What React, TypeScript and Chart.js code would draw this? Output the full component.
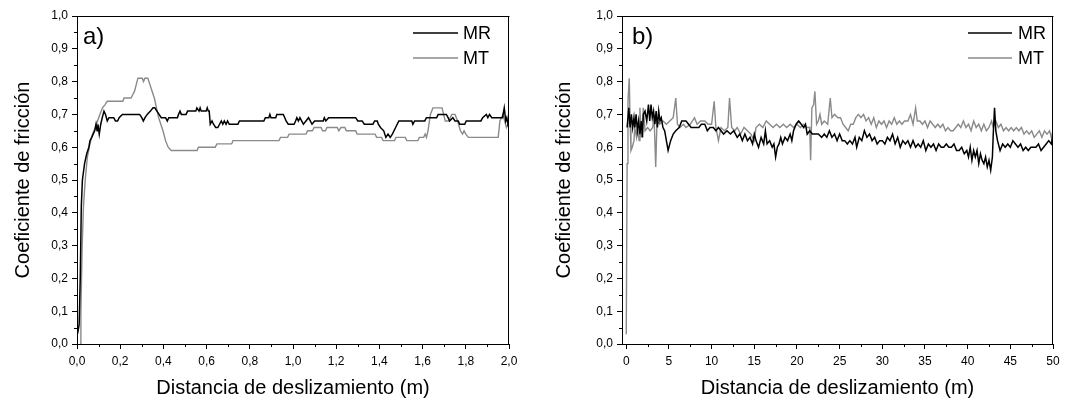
import React, { useEffect, useRef } from "react";
import { Chart, registerables } from "chart.js";

Chart.register(...registerables);

// ---------- Panel a) : 0 – 2.0 m ----------
const aMRx = [0.0, 0.005, 0.01, 0.015, 0.02, 0.025, 0.035, 0.045, 0.055, 0.06, 0.068, 0.075, 0.082, 0.088, 0.093, 0.097, 0.103, 0.11, 0.117, 0.125, 0.132, 0.14, 0.148, 0.16, 0.17, 0.178, 0.188, 0.195, 0.21, 0.29, 0.3, 0.307, 0.315, 0.325, 0.34, 0.352, 0.36, 0.37, 0.38, 0.39, 0.41, 0.418, 0.425, 0.465, 0.47, 0.477, 0.483, 0.505, 0.512, 0.55, 0.555, 0.565, 0.57, 0.575, 0.598, 0.603, 0.608, 0.612, 0.617, 0.625, 0.632, 0.642, 0.652, 0.66, 0.668, 0.675, 0.682, 0.69, 0.697, 0.705, 0.745, 0.752, 0.865, 0.872, 0.888, 0.893, 0.898, 0.92, 0.925, 0.955, 0.962, 0.968, 0.978, 1.005, 1.012, 1.018, 1.025, 1.032, 1.04, 1.048, 1.06, 1.072, 1.08, 1.088, 1.1, 1.14, 1.145, 1.152, 1.165, 1.29, 1.3, 1.32, 1.33, 1.37, 1.378, 1.39, 1.395, 1.405, 1.42, 1.43, 1.44, 1.45, 1.46, 1.475, 1.49, 1.55, 1.555, 1.563, 1.61, 1.618, 1.665, 1.672, 1.71, 1.718, 1.725, 1.74, 1.75, 1.765, 1.772, 1.795, 1.802, 1.87, 1.878, 1.895, 1.902, 1.91, 1.92, 1.97, 1.978, 1.985, 1.99, 1.995, 2.0];
const aMRy = [0.05, 0.04, 0.06, 0.2, 0.42, 0.5, 0.55, 0.58, 0.6, 0.62, 0.63, 0.64, 0.65, 0.67, 0.65, 0.67, 0.64, 0.67, 0.69, 0.71, 0.7, 0.68, 0.69, 0.69, 0.69, 0.68, 0.68, 0.69, 0.7, 0.7, 0.69, 0.68, 0.69, 0.7, 0.71, 0.72, 0.72, 0.71, 0.7, 0.69, 0.69, 0.68, 0.69, 0.69, 0.7, 0.71, 0.7, 0.7, 0.71, 0.71, 0.72, 0.71, 0.72, 0.71, 0.71, 0.72, 0.71, 0.71, 0.67, 0.68, 0.67, 0.66, 0.66, 0.67, 0.68, 0.67, 0.68, 0.67, 0.68, 0.67, 0.67, 0.68, 0.68, 0.69, 0.69, 0.7, 0.69, 0.69, 0.7, 0.7, 0.69, 0.68, 0.67, 0.67, 0.68, 0.69, 0.68, 0.69, 0.68, 0.67, 0.68, 0.69, 0.68, 0.67, 0.68, 0.68, 0.69, 0.68, 0.69, 0.69, 0.68, 0.68, 0.67, 0.67, 0.68, 0.68, 0.67, 0.66, 0.65, 0.63, 0.64, 0.63, 0.64, 0.66, 0.68, 0.68, 0.67, 0.68, 0.68, 0.69, 0.69, 0.7, 0.7, 0.69, 0.68, 0.69, 0.68, 0.68, 0.67, 0.67, 0.68, 0.68, 0.69, 0.7, 0.69, 0.7, 0.69, 0.69, 0.72, 0.68, 0.69, 0.67, 0.68];

const aMTx = [0.014, 0.018, 0.024, 0.03, 0.038, 0.048, 0.06, 0.072, 0.085, 0.095, 0.106, 0.118, 0.13, 0.14, 0.212, 0.218, 0.25, 0.258, 0.266, 0.274, 0.282, 0.302, 0.308, 0.314, 0.328, 0.338, 0.348, 0.358, 0.368, 0.378, 0.388, 0.398, 0.41, 0.422, 0.436, 0.556, 0.562, 0.64, 0.648, 0.716, 0.722, 0.935, 0.942, 0.975, 0.982, 1.06, 1.068, 1.09, 1.098, 1.13, 1.137, 1.15, 1.157, 1.205, 1.212, 1.222, 1.24, 1.247, 1.29, 1.297, 1.38, 1.387, 1.41, 1.417, 1.47, 1.477, 1.52, 1.527, 1.578, 1.585, 1.605, 1.612, 1.618, 1.625, 1.636, 1.648, 1.69, 1.697, 1.705, 1.722, 1.728, 1.735, 1.75, 1.762, 1.775, 1.785, 1.792, 1.8, 1.812, 1.95, 1.958, 1.965, 1.972, 1.98, 1.988, 1.995, 2.0];
const aMTy = [0.0, 0.1, 0.3, 0.42, 0.5, 0.57, 0.61, 0.64, 0.66, 0.68, 0.7, 0.72, 0.73, 0.74, 0.74, 0.75, 0.75, 0.76, 0.77, 0.79, 0.81, 0.81, 0.8, 0.81, 0.81, 0.79, 0.77, 0.75, 0.72, 0.69, 0.67, 0.65, 0.62, 0.6, 0.59, 0.59, 0.6, 0.6, 0.61, 0.61, 0.62, 0.62, 0.63, 0.63, 0.64, 0.64, 0.65, 0.65, 0.66, 0.66, 0.65, 0.65, 0.66, 0.66, 0.65, 0.66, 0.66, 0.65, 0.65, 0.64, 0.64, 0.63, 0.63, 0.62, 0.62, 0.63, 0.63, 0.62, 0.62, 0.63, 0.63, 0.64, 0.63, 0.65, 0.7, 0.72, 0.72, 0.7, 0.68, 0.68, 0.69, 0.7, 0.7, 0.68, 0.65, 0.64, 0.65, 0.64, 0.63, 0.63, 0.68, 0.69, 0.7, 0.68, 0.66, 0.67, 0.67];

// ---------- Panel b) : 0 – 50 m ----------
const bMRx = [0.1, 0.3, 0.45, 0.6, 0.75, 0.9, 1.0, 1.15, 1.3, 1.45, 1.6, 1.75, 1.9, 2.0, 2.2, 2.4, 2.6, 2.75, 2.9, 3.05, 3.2, 3.35, 3.5, 3.65, 3.8, 3.95, 4.1, 4.3, 4.5, 4.7, 4.9, 5.0, 5.2, 5.5, 5.8, 6.2, 6.5, 7.0, 7.3, 7.6, 8.5, 8.8, 9.2, 9.5, 9.8, 10.2, 10.5, 10.8, 11.1, 11.4, 11.8, 12.2, 12.6, 13.0, 13.3, 13.6, 13.9, 14.2, 14.5, 14.8, 15.0, 15.2, 15.5, 15.8, 16.1, 16.3, 16.5, 16.8, 17.1, 17.3, 17.5, 17.7, 17.9, 18.1, 18.3, 18.6, 18.9, 19.2, 19.4, 19.6, 19.9, 20.2, 20.5, 20.8, 21.0, 21.2, 21.5, 21.8, 22.5, 22.9, 23.2, 23.5, 23.8, 24.1, 24.4, 24.7, 25.0, 25.3, 25.6, 25.9, 26.2, 26.5, 26.8, 27.0, 27.3, 27.6, 27.9, 28.2, 28.5, 28.8, 29.1, 29.4, 29.7, 30.0, 30.3, 30.6, 30.9, 31.2, 31.5, 31.8, 32.1, 32.4, 32.7, 33.0, 33.3, 33.6, 33.9, 34.2, 34.5, 34.8, 35.1, 35.4, 35.7, 36.0, 36.3, 36.6, 36.9, 37.2, 37.5, 37.8, 38.1, 38.4, 38.7, 39.0, 39.3, 39.6, 39.9, 40.1, 40.3, 40.5, 40.7, 40.9, 41.1, 41.3, 41.5, 41.7, 41.9, 42.1, 42.3, 42.5, 42.7, 42.9, 43.0, 43.15, 43.3, 43.5, 43.8, 44.1, 44.4, 44.7, 45.0, 45.3, 45.6, 45.9, 46.2, 46.5, 46.8, 47.1, 47.4, 47.7, 48.0, 48.3, 48.6, 48.9, 49.2, 49.5, 49.8, 50.0];
const bMRy = [0.66, 0.72, 0.66, 0.7, 0.66, 0.69, 0.66, 0.7, 0.65, 0.68, 0.64, 0.68, 0.63, 0.7, 0.71, 0.68, 0.73, 0.68, 0.73, 0.69, 0.71, 0.67, 0.71, 0.66, 0.71, 0.68, 0.69, 0.66, 0.65, 0.62, 0.59, 0.59, 0.62, 0.64, 0.65, 0.66, 0.68, 0.68, 0.67, 0.66, 0.66, 0.67, 0.67, 0.65, 0.66, 0.66, 0.65, 0.66, 0.65, 0.64, 0.65, 0.64, 0.65, 0.63, 0.64, 0.62, 0.64, 0.62, 0.63, 0.61, 0.64, 0.62, 0.6, 0.63, 0.61, 0.65, 0.61, 0.62, 0.6, 0.61, 0.57, 0.6, 0.61, 0.63, 0.61, 0.63, 0.62, 0.64, 0.62, 0.65, 0.67, 0.68, 0.67, 0.66, 0.67, 0.64, 0.65, 0.64, 0.64, 0.63, 0.64, 0.63, 0.65, 0.63, 0.64, 0.62, 0.64, 0.62, 0.62, 0.61, 0.62, 0.61, 0.63, 0.6, 0.63, 0.62, 0.65, 0.63, 0.64, 0.62, 0.63, 0.61, 0.62, 0.62, 0.61, 0.63, 0.62, 0.64, 0.61, 0.63, 0.6, 0.62, 0.61, 0.62, 0.6, 0.62, 0.6, 0.61, 0.6, 0.62, 0.59, 0.61, 0.6, 0.61, 0.59, 0.61, 0.6, 0.6, 0.61, 0.6, 0.6, 0.61, 0.59, 0.59, 0.6, 0.58, 0.59, 0.57, 0.6, 0.56, 0.59, 0.57, 0.59, 0.55, 0.58, 0.56, 0.55, 0.57, 0.54, 0.56, 0.53, 0.57, 0.64, 0.72, 0.65, 0.62, 0.59, 0.61, 0.6, 0.61, 0.6, 0.62, 0.61, 0.6, 0.61, 0.59, 0.6, 0.59, 0.6, 0.6, 0.6, 0.61, 0.59, 0.6, 0.61, 0.62, 0.61, 0.64];

const bMTx = [0.0, 0.1, 0.2, 0.35, 0.45, 0.55, 0.7, 0.9, 1.0, 1.2, 1.35, 1.5, 1.6, 1.75, 1.9, 2.0, 2.2, 2.5, 2.8, 3.1, 3.25, 3.45, 3.6, 3.9, 4.3, 4.7, 5.1, 5.5, 5.8, 6.0, 6.3, 6.7, 7.0, 7.5, 8.0, 8.3, 8.7, 9.2, 9.6, 10.0, 10.3, 10.5, 10.8, 11.1, 11.5, 11.9, 12.1, 12.35, 12.7, 13.0, 13.4, 13.8, 14.2, 14.6, 15.0, 15.2, 15.6, 16.0, 16.4, 16.8, 17.2, 17.6, 18.0, 18.4, 18.8, 19.2, 19.6, 20.0, 20.4, 20.8, 21.2, 21.5, 21.6, 21.75, 21.95, 22.1, 22.3, 22.5, 22.7, 22.9, 23.2, 23.6, 23.9, 24.1, 24.4, 24.8, 25.1, 25.4, 25.7, 26.0, 26.3, 26.6, 26.9, 27.2, 27.5, 27.8, 28.1, 28.4, 28.7, 29.0, 29.3, 29.6, 29.9, 30.2, 30.5, 30.8, 31.1, 31.4, 31.7, 32.0, 32.3, 32.6, 33.0, 33.3, 33.6, 33.9, 34.1, 34.4, 34.7, 35.0, 35.3, 35.6, 35.9, 36.2, 36.5, 36.8, 37.1, 37.4, 37.7, 38.0, 38.3, 38.6, 38.9, 39.2, 39.5, 39.8, 40.1, 40.4, 40.7, 41.0, 41.3, 41.6, 41.9, 42.2, 42.5, 42.8, 43.0, 43.3, 43.6, 43.9, 44.2, 44.5, 44.8, 45.1, 45.4, 45.7, 46.0, 46.3, 46.6, 46.9, 47.2, 47.5, 47.8, 48.1, 48.4, 48.7, 49.0, 49.3, 49.6, 49.8, 50.0];
const bMTy = [0.03, 0.55, 0.74, 0.81, 0.68, 0.59, 0.6, 0.62, 0.66, 0.63, 0.66, 0.62, 0.72, 0.63, 0.68, 0.72, 0.65, 0.66, 0.65, 0.66, 0.7, 0.54, 0.68, 0.67, 0.68, 0.67, 0.68, 0.69, 0.75, 0.67, 0.66, 0.67, 0.66, 0.67, 0.69, 0.67, 0.68, 0.68, 0.67, 0.67, 0.74, 0.66, 0.62, 0.66, 0.65, 0.66, 0.75, 0.66, 0.65, 0.66, 0.64, 0.66, 0.65, 0.64, 0.62, 0.66, 0.67, 0.66, 0.68, 0.67, 0.66, 0.67, 0.66, 0.67, 0.66, 0.67, 0.66, 0.67, 0.66, 0.67, 0.66, 0.66, 0.56, 0.72, 0.73, 0.77, 0.67, 0.68, 0.7, 0.67, 0.68, 0.67, 0.75, 0.69, 0.7, 0.69, 0.69, 0.67, 0.66, 0.65, 0.67, 0.67, 0.69, 0.7, 0.69, 0.7, 0.68, 0.69, 0.67, 0.69, 0.66, 0.68, 0.67, 0.68, 0.66, 0.68, 0.67, 0.69, 0.67, 0.68, 0.67, 0.68, 0.68, 0.7, 0.67, 0.72, 0.68, 0.68, 0.67, 0.68, 0.66, 0.68, 0.67, 0.66, 0.67, 0.66, 0.67, 0.65, 0.66, 0.65, 0.65, 0.66, 0.67, 0.66, 0.68, 0.66, 0.67, 0.65, 0.68, 0.66, 0.67, 0.65, 0.67, 0.65, 0.66, 0.68, 0.66, 0.68, 0.66, 0.67, 0.65, 0.66, 0.65, 0.66, 0.65, 0.66, 0.65, 0.66, 0.64, 0.65, 0.64, 0.65, 0.63, 0.64, 0.65, 0.63, 0.65, 0.64, 0.65, 0.63, 0.65];

// ---------- Axes ----------
const yMajorTicks = [0, 0.1, 0.2, 0.3, 0.4, 0.5, 0.6, 0.7, 0.8, 0.9, 1.0];
const yMinorTicks = [0.05, 0.15, 0.25, 0.35, 0.45, 0.55, 0.65, 0.75, 0.85, 0.95];
const aXMajorTicks = [0, 0.2, 0.4, 0.6, 0.8, 1.0, 1.2, 1.4, 1.6, 1.8, 2.0];
const aXMinorTicks = [0.1, 0.3, 0.5, 0.7, 0.9, 1.1, 1.3, 1.5, 1.7, 1.9];
const bXMajorTicks = [0, 5, 10, 15, 20, 25, 30, 35, 40, 45, 50];
const bXMinorTicks = [2.5, 7.5, 12.5, 17.5, 22.5, 27.5, 32.5, 37.5, 42.5, 47.5];

const seriesNames = ["MR", "MT"];
const yTitle = "Coeficiente de fricción";
const xTitle = "Distancia de deslizamiento (m)";

const FONT = "'Liberation Sans', Arial, Helvetica, sans-serif";
const GRAY = "#8a8a8a";

const zip = (xs: number[], ys: number[]) => xs.map((x, i) => ({ x, y: ys[i] }));
const comma1 = (v: number) => v.toFixed(1).replace(".", ",");

const decorPlugin = {
  id: "decor",
  afterDraw(chart: any, _args: any, opts: any) {
    const { ctx, chartArea: ca } = chart;
    const xs = chart.scales.x;
    const ys = chart.scales.y;
    const L = Math.round(ca.left);
    const R = Math.round(ca.right);
    const T = Math.round(ca.top);
    const B = Math.round(ca.bottom);
    ctx.save();
    ctx.strokeStyle = "#000";
    ctx.lineWidth = 1;
    ctx.beginPath();
    ctx.moveTo(L, T + 0.5);
    ctx.lineTo(R + 0.5, T + 0.5);
    ctx.moveTo(R - 0.5, T);
    ctx.lineTo(R - 0.5, B);
    for (const v of opts.xMinor) {
      const px = Math.round(xs.getPixelForValue(v)) + 0.5;
      ctx.moveTo(px, B);
      ctx.lineTo(px, B + 3);
    }
    for (const v of opts.yMinor) {
      const py = Math.round(ys.getPixelForValue(v)) + 0.5;
      ctx.moveTo(L - 3, py);
      ctx.lineTo(L, py);
    }
    ctx.stroke();

    chart.data.datasets.forEach((ds: any, i: number) => {
      const y = opts.legendY + i * 25;
      ctx.strokeStyle = ds.borderColor;
      ctx.lineWidth = 1.5;
      ctx.beginPath();
      ctx.moveTo(opts.legendLine[0], y);
      ctx.lineTo(opts.legendLine[1], y);
      ctx.stroke();
      ctx.fillStyle = "#000";
      ctx.font = `18px ${FONT}`;
      ctx.textBaseline = "middle";
      ctx.textAlign = "left";
      ctx.fillText(ds.label, opts.legendText, y + 1);
    });

    ctx.fillStyle = "#000";
    ctx.font = `24px ${FONT}`;
    ctx.textBaseline = "alphabetic";
    ctx.fillText(opts.panel, opts.panelX, opts.panelY);
    ctx.restore();
  },
};

function makeConfig(p: any) {
  return {
    type: "line",
    data: {
      datasets: [
        {
          label: seriesNames[0],
          data: zip(p.mrX, p.mrY),
          borderColor: "#000",
          borderWidth: 1.5,
          pointRadius: 0,
          tension: 0,
          fill: false,
        },
        {
          label: seriesNames[1],
          data: zip(p.mtX, p.mtY),
          borderColor: GRAY,
          borderWidth: 1.4,
          pointRadius: 0,
          tension: 0,
          fill: false,
        },
      ],
    },
    options: {
      animation: false,
      responsive: false,
      maintainAspectRatio: false,
      parsing: false,
      layout: { padding: { top: 16, right: p.padRight, bottom: 0, left: 0 } },
      plugins: {
        legend: { display: false },
        tooltip: { enabled: false },
        decor: p.decor,
      },
      scales: {
        x: {
          type: "linear",
          min: p.xMin,
          max: p.xMax,
          afterFit: (s: any) => {
            s.height = 57;
          },
          afterBuildTicks: (s: any) => {
            s.ticks = p.xMajor.map((v: number) => ({ value: v }));
          },
          ticks: {
            autoSkip: false,
            maxRotation: 0,
            padding: 5,
            color: "#000",
            font: { family: FONT, size: 12 },
            callback: p.xFmt,
          },
          grid: {
            drawOnChartArea: false,
            drawTicks: true,
            tickLength: 5,
            tickColor: "#000",
            tickWidth: 1,
          },
          border: { display: true, color: "#000", width: 1 },
          title: {
            display: true,
            text: xTitle,
            color: "#000",
            font: { family: FONT, size: 20 },
            padding: { top: 0, bottom: 1 },
          },
        },
        y: {
          type: "linear",
          min: 0,
          max: 1,
          afterFit: (s: any) => {
            s.width = p.yWidth;
          },
          afterBuildTicks: (s: any) => {
            s.ticks = yMajorTicks.map((v) => ({ value: v }));
          },
          ticks: {
            autoSkip: false,
            padding: 4,
            color: "#000",
            font: { family: FONT, size: 12 },
            callback: (v: any) => comma1(Number(v)),
          },
          grid: {
            drawOnChartArea: false,
            drawTicks: true,
            tickLength: 5,
            tickColor: "#000",
            tickWidth: 1,
          },
          border: { display: true, color: "#000", width: 1 },
          title: {
            display: true,
            text: yTitle,
            color: "#000",
            font: { family: FONT, size: 20 },
            padding: { top: 11, bottom: 0 },
          },
        },
      },
    },
    plugins: [decorPlugin],
  };
}

const panelA = {
  mrX: aMRx,
  mrY: aMRy,
  mtX: aMTx,
  mtY: aMTy,
  xMin: 0,
  xMax: 2,
  xMajor: aXMajorTicks,
  xFmt: (v: any) => comma1(Number(v)),
  yWidth: 77,
  padRight: 32,
  decor: {
    xMinor: aXMinorTicks,
    yMinor: yMinorTicks,
    legendY: 33,
    legendLine: [413, 458],
    legendText: 463,
    panel: "a)",
    panelX: 83,
    panelY: 44,
  },
};

const panelB = {
  mrX: bMRx,
  mrY: bMRy,
  mtX: bMTx,
  mtY: bMTy,
  xMin: -0.5,
  xMax: 50,
  xMajor: bXMajorTicks,
  xFmt: (v: any) => String(Math.round(Number(v))),
  yWidth: 81,
  padRight: 29,
  decor: {
    xMinor: bXMinorTicks,
    yMinor: yMinorTicks,
    legendY: 33,
    legendLine: [427, 471],
    legendText: 477,
    panel: "b)",
    panelX: 91,
    panelY: 44,
  },
};

function Panel({ cfg, left }: { cfg: any; left: number }) {
  const ref = useRef<HTMLCanvasElement | null>(null);
  useEffect(() => {
    if (!ref.current) return;
    const chart = new Chart(ref.current, makeConfig(cfg) as any);
    return () => chart.destroy();
  }, [cfg]);
  return (
    <canvas
      ref={ref}
      width={541}
      height={401}
      style={{ position: "absolute", left, top: 0, width: 541, height: 401 }}
    />
  );
}

export default function App() {
  return (
    <div
      style={{
        position: "absolute",
        left: 0,
        top: 0,
        width: 1082,
        height: 401,
        background: "#fff",
        overflow: "hidden",
      }}
    >
      <Panel cfg={panelA} left={0} />
      <Panel cfg={panelB} left={541} />
    </div>
  );
}
